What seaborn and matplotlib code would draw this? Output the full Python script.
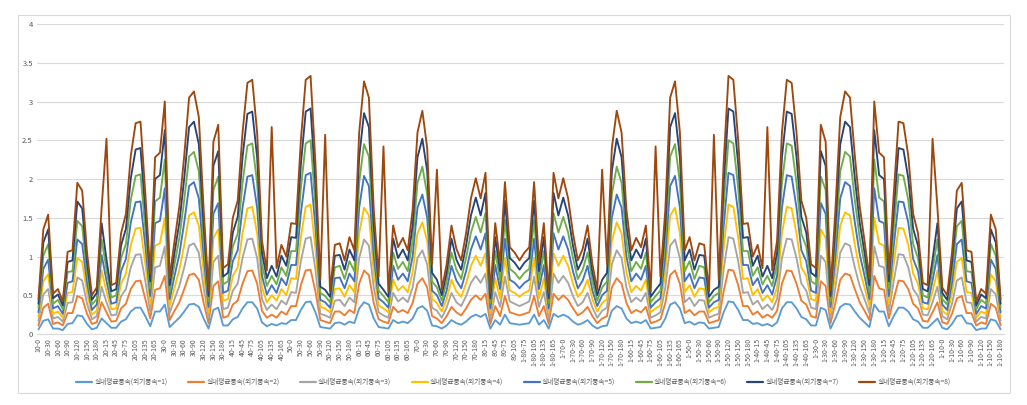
import numpy as np
import pandas as pd
import matplotlib
matplotlib.use("Agg")
import matplotlib.pyplot as plt
import seaborn as sns
from matplotlib.patches import Rectangle

# ---------------- data ----------------
series_names = ["실내평균풍속(외기풍속=1)", "실내평균풍속(외기풍속=2)", "실내평균풍속(외기풍속=3)",
                "실내평균풍속(외기풍속=4)", "실내평균풍속(외기풍속=5)", "실내평균풍속(외기풍속=6)",
                "실내평균풍속(외기풍속=7)", "실내평균풍속(외기풍속=8)"]
colors = ["#5B9BD5", "#ED7D31", "#A5A5A5", "#FFC000", "#4472C4", "#70AD47", "#264478", "#9E480E"]

groups_left = [10, 20, 30, 40, 50, 60, 70, 80]
groups_right = [80, 70, 60, 50, 40, 30, 20, 10]
angles = [0, 15, 30, 45, 60, 75, 90, 105, 120, 135, 150, 165, 180]

s1 = [0.06, 0.17, 0.19, 0.07, 0.07, 0.05, 0.13, 0.14, 0.24, 0.23,
      0.13, 0.06, 0.08, 0.20, 0.14, 0.08, 0.08, 0.16, 0.19, 0.29,
      0.34, 0.34, 0.23, 0.10, 0.29, 0.29, 0.38, 0.09, 0.15, 0.21,
      0.29, 0.38, 0.39, 0.35, 0.20, 0.07, 0.31, 0.34, 0.11, 0.11,
      0.19, 0.22, 0.33, 0.41, 0.41, 0.33, 0.15, 0.10, 0.13, 0.11,
      0.14, 0.13, 0.18, 0.18, 0.31, 0.41, 0.42, 0.28, 0.09, 0.08,
      0.07, 0.14, 0.15, 0.12, 0.16, 0.14, 0.33, 0.41, 0.38, 0.20,
      0.09, 0.08, 0.07, 0.18, 0.14, 0.16, 0.14, 0.20, 0.33, 0.36,
      0.30, 0.11, 0.10, 0.07, 0.11, 0.18, 0.14, 0.12, 0.16, 0.22,
      0.25, 0.22, 0.26, 0.07, 0.18, 0.12, 0.25, 0.14, 0.13, 0.12,
      0.13, 0.14, 0.25, 0.12, 0.18, 0.07, 0.26, 0.22, 0.25,
      0.22, 0.16, 0.12, 0.14, 0.18, 0.11, 0.07, 0.10, 0.11, 0.30,
      0.36, 0.33, 0.20, 0.14, 0.16, 0.14, 0.18, 0.07, 0.08, 0.09,
      0.20, 0.38, 0.41, 0.33, 0.14, 0.16, 0.12, 0.15, 0.14, 0.07,
      0.08, 0.09, 0.28, 0.42, 0.41, 0.31, 0.18, 0.18, 0.13, 0.14,
      0.11, 0.13, 0.10, 0.15, 0.33, 0.41, 0.41, 0.33, 0.22, 0.19,
      0.11, 0.11, 0.34, 0.31, 0.07, 0.20, 0.35, 0.39, 0.38, 0.29,
      0.21, 0.15, 0.09, 0.38, 0.29, 0.29, 0.10, 0.23, 0.34, 0.34,
      0.29, 0.19, 0.16, 0.08, 0.08, 0.14, 0.20, 0.08, 0.06, 0.13,
      0.23, 0.24, 0.14, 0.13, 0.05, 0.07, 0.07, 0.19, 0.17, 0.06]

s2 = [0.11, 0.34, 0.39, 0.13, 0.15, 0.11, 0.27, 0.27, 0.49, 0.46,
      0.26, 0.13, 0.15, 0.41, 0.28, 0.16, 0.17, 0.33, 0.39, 0.58,
      0.68, 0.69, 0.45, 0.20, 0.57, 0.59, 0.75, 0.18, 0.30, 0.41,
      0.58, 0.76, 0.78, 0.70, 0.40, 0.14, 0.62, 0.68, 0.21, 0.23,
      0.38, 0.43, 0.65, 0.81, 0.82, 0.65, 0.30, 0.21, 0.25, 0.21,
      0.29, 0.25, 0.36, 0.36, 0.63, 0.82, 0.83, 0.55, 0.18, 0.16,
      0.14, 0.29, 0.29, 0.24, 0.31, 0.27, 0.65, 0.82, 0.76, 0.40,
      0.19, 0.16, 0.14, 0.35, 0.28, 0.31, 0.27, 0.40, 0.65, 0.72,
      0.60, 0.23, 0.20, 0.14, 0.23, 0.35, 0.28, 0.24, 0.33, 0.44,
      0.50, 0.44, 0.52, 0.13, 0.36, 0.23, 0.49, 0.28, 0.26, 0.24,
      0.26, 0.28, 0.49, 0.23, 0.36, 0.13, 0.52, 0.44, 0.50,
      0.44, 0.33, 0.24, 0.28, 0.35, 0.23, 0.14, 0.20, 0.23, 0.60,
      0.72, 0.65, 0.40, 0.27, 0.31, 0.28, 0.35, 0.14, 0.16, 0.19,
      0.40, 0.76, 0.82, 0.65, 0.27, 0.31, 0.24, 0.29, 0.29, 0.14,
      0.16, 0.18, 0.55, 0.83, 0.82, 0.63, 0.36, 0.36, 0.25, 0.29,
      0.21, 0.25, 0.21, 0.30, 0.65, 0.82, 0.81, 0.65, 0.43, 0.38,
      0.23, 0.21, 0.68, 0.62, 0.14, 0.40, 0.70, 0.78, 0.76, 0.58,
      0.41, 0.30, 0.18, 0.75, 0.59, 0.57, 0.20, 0.45, 0.69, 0.68,
      0.58, 0.39, 0.33, 0.17, 0.16, 0.28, 0.41, 0.15, 0.13, 0.26,
      0.46, 0.49, 0.27, 0.27, 0.11, 0.15, 0.13, 0.39, 0.34, 0.11]

s3 = [0.17, 0.51, 0.58, 0.20, 0.22, 0.16, 0.40, 0.41, 0.73, 0.69,
      0.39, 0.19, 0.23, 0.61, 0.41, 0.24, 0.25, 0.49, 0.58, 0.86,
      1.02, 1.03, 0.68, 0.29, 0.86, 0.88, 1.13, 0.27, 0.45, 0.62,
      0.86, 1.14, 1.17, 1.05, 0.60, 0.21, 0.93, 1.01, 0.32, 0.34,
      0.56, 0.65, 0.98, 1.22, 1.23, 0.98, 0.45, 0.31, 0.38, 0.32,
      0.43, 0.38, 0.54, 0.53, 0.94, 1.23, 1.25, 0.83, 0.26, 0.24,
      0.21, 0.43, 0.44, 0.36, 0.47, 0.41, 0.98, 1.22, 1.14, 0.60,
      0.28, 0.24, 0.21, 0.53, 0.42, 0.47, 0.41, 0.60, 0.98, 1.08,
      0.90, 0.34, 0.30, 0.21, 0.34, 0.53, 0.41, 0.36, 0.49, 0.66,
      0.75, 0.66, 0.78, 0.20, 0.54, 0.35, 0.74, 0.42, 0.39, 0.36,
      0.39, 0.42, 0.74, 0.35, 0.54, 0.20, 0.78, 0.66, 0.75,
      0.66, 0.49, 0.36, 0.41, 0.53, 0.34, 0.21, 0.30, 0.34, 0.90,
      1.08, 0.98, 0.60, 0.41, 0.47, 0.42, 0.53, 0.21, 0.24, 0.28,
      0.60, 1.14, 1.22, 0.98, 0.41, 0.47, 0.36, 0.44, 0.43, 0.21,
      0.24, 0.26, 0.83, 1.25, 1.23, 0.94, 0.53, 0.54, 0.38, 0.43,
      0.32, 0.38, 0.31, 0.45, 0.98, 1.23, 1.22, 0.98, 0.65, 0.56,
      0.34, 0.32, 1.01, 0.93, 0.21, 0.60, 1.05, 1.17, 1.14, 0.86,
      0.62, 0.45, 0.27, 1.13, 0.88, 0.86, 0.29, 0.68, 1.03, 1.02,
      0.86, 0.58, 0.49, 0.25, 0.24, 0.41, 0.61, 0.23, 0.19, 0.39,
      0.69, 0.73, 0.41, 0.40, 0.16, 0.22, 0.20, 0.58, 0.51, 0.17]

s4 = [0.23, 0.68, 0.77, 0.26, 0.29, 0.21, 0.53, 0.54, 0.98, 0.93,
      0.53, 0.25, 0.30, 0.82, 0.55, 0.32, 0.33, 0.65, 0.78, 1.15,
      1.36, 1.37, 0.90, 0.39, 1.14, 1.17, 1.50, 0.36, 0.60, 0.83,
      1.15, 1.53, 1.57, 1.40, 0.80, 0.28, 1.24, 1.35, 0.43, 0.45,
      0.75, 0.86, 1.30, 1.62, 1.64, 1.30, 0.60, 0.41, 0.50, 0.43,
      0.58, 0.50, 0.72, 0.71, 1.25, 1.64, 1.67, 1.10, 0.35, 0.33,
      0.28, 0.58, 0.59, 0.48, 0.63, 0.54, 1.30, 1.63, 1.53, 0.80,
      0.37, 0.33, 0.28, 0.70, 0.56, 0.62, 0.54, 0.80, 1.30, 1.44,
      1.20, 0.45, 0.40, 0.29, 0.45, 0.70, 0.55, 0.48, 0.65, 0.88,
      1.01, 0.88, 1.04, 0.27, 0.72, 0.46, 0.98, 0.56, 0.53, 0.48,
      0.53, 0.56, 0.98, 0.46, 0.72, 0.27, 1.04, 0.88, 1.01,
      0.88, 0.65, 0.48, 0.55, 0.70, 0.45, 0.29, 0.40, 0.45, 1.20,
      1.44, 1.30, 0.80, 0.54, 0.62, 0.56, 0.70, 0.28, 0.33, 0.37,
      0.80, 1.53, 1.63, 1.30, 0.54, 0.63, 0.48, 0.59, 0.58, 0.28,
      0.33, 0.35, 1.10, 1.67, 1.64, 1.25, 0.71, 0.72, 0.50, 0.58,
      0.43, 0.50, 0.41, 0.60, 1.30, 1.64, 1.62, 1.30, 0.86, 0.75,
      0.45, 0.43, 1.35, 1.24, 0.28, 0.80, 1.40, 1.57, 1.53, 1.15,
      0.83, 0.60, 0.36, 1.50, 1.17, 1.14, 0.39, 0.90, 1.37, 1.36,
      1.15, 0.78, 0.65, 0.33, 0.32, 0.55, 0.82, 0.30, 0.25, 0.53,
      0.93, 0.98, 0.54, 0.53, 0.21, 0.29, 0.26, 0.77, 0.68, 0.23]

s5 = [0.28, 0.84, 0.96, 0.33, 0.36, 0.26, 0.66, 0.68, 1.22, 1.16,
      0.66, 0.31, 0.38, 1.02, 0.69, 0.39, 0.41, 0.81, 0.97, 1.44,
      1.70, 1.71, 1.13, 0.49, 1.43, 1.46, 1.88, 0.45, 0.75, 1.03,
      1.44, 1.91, 1.96, 1.75, 1.00, 0.35, 1.55, 1.69, 0.53, 0.56,
      0.94, 1.08, 1.63, 2.03, 2.05, 1.63, 0.75, 0.51, 0.63, 0.53,
      0.72, 0.63, 0.89, 0.89, 1.56, 2.05, 2.08, 1.38, 0.44, 0.41,
      0.34, 0.72, 0.73, 0.59, 0.78, 0.68, 1.63, 2.04, 1.91, 1.00,
      0.46, 0.41, 0.34, 0.88, 0.70, 0.78, 0.68, 1.00, 1.63, 1.80,
      1.50, 0.56, 0.50, 0.36, 0.56, 0.88, 0.69, 0.59, 0.81, 1.09,
      1.26, 1.09, 1.30, 0.33, 0.89, 0.58, 1.23, 0.70, 0.66, 0.59,
      0.66, 0.70, 1.23, 0.58, 0.89, 0.33, 1.30, 1.09, 1.26,
      1.09, 0.81, 0.59, 0.69, 0.88, 0.56, 0.36, 0.50, 0.56, 1.50,
      1.80, 1.63, 1.00, 0.68, 0.78, 0.70, 0.88, 0.34, 0.41, 0.46,
      1.00, 1.91, 2.04, 1.63, 0.68, 0.78, 0.59, 0.73, 0.72, 0.34,
      0.41, 0.44, 1.38, 2.08, 2.05, 1.56, 0.89, 0.89, 0.63, 0.72,
      0.53, 0.63, 0.51, 0.75, 1.63, 2.05, 2.03, 1.63, 1.08, 0.94,
      0.56, 0.53, 1.69, 1.55, 0.35, 1.00, 1.75, 1.96, 1.91, 1.44,
      1.03, 0.75, 0.45, 1.88, 1.46, 1.43, 0.49, 1.13, 1.71, 1.70,
      1.44, 0.97, 0.81, 0.41, 0.39, 0.69, 1.02, 0.38, 0.31, 0.66,
      1.16, 1.22, 0.68, 0.66, 0.26, 0.36, 0.33, 0.96, 0.84, 0.28]

s6 = [0.34, 1.01, 1.16, 0.39, 0.44, 0.32, 0.80, 0.81, 1.46, 1.39,
      0.79, 0.38, 0.45, 1.22, 0.83, 0.47, 0.50, 0.98, 1.16, 1.73,
      2.04, 2.06, 1.35, 0.59, 1.71, 1.76, 2.25, 0.54, 0.90, 1.24,
      1.73, 2.29, 2.35, 2.10, 1.20, 0.42, 1.86, 2.03, 0.64, 0.68,
      1.13, 1.29, 1.95, 2.43, 2.46, 1.95, 0.90, 0.62, 0.75, 0.64,
      0.86, 0.75, 1.07, 1.07, 1.88, 2.46, 2.50, 1.65, 0.53, 0.49,
      0.41, 0.86, 0.88, 0.71, 0.94, 0.81, 1.95, 2.45, 2.29, 1.20,
      0.56, 0.49, 0.41, 1.05, 0.84, 0.93, 0.81, 1.20, 1.95, 2.16,
      1.80, 0.68, 0.60, 0.43, 0.68, 1.05, 0.83, 0.71, 0.98, 1.31,
      1.51, 1.31, 1.56, 0.40, 1.07, 0.69, 1.47, 0.84, 0.79, 0.71,
      0.79, 0.84, 1.47, 0.69, 1.07, 0.40, 1.56, 1.31, 1.51,
      1.31, 0.98, 0.71, 0.83, 1.05, 0.68, 0.43, 0.60, 0.68, 1.80,
      2.16, 1.95, 1.20, 0.81, 0.93, 0.84, 1.05, 0.41, 0.49, 0.56,
      1.20, 2.29, 2.45, 1.95, 0.81, 0.94, 0.71, 0.88, 0.86, 0.41,
      0.49, 0.53, 1.65, 2.50, 2.46, 1.88, 1.07, 1.07, 0.75, 0.86,
      0.64, 0.75, 0.62, 0.90, 1.95, 2.46, 2.43, 1.95, 1.29, 1.13,
      0.68, 0.64, 2.03, 1.86, 0.42, 1.20, 2.10, 2.35, 2.29, 1.73,
      1.24, 0.90, 0.54, 2.25, 1.76, 1.71, 0.59, 1.35, 2.06, 2.04,
      1.73, 1.16, 0.98, 0.50, 0.47, 0.83, 1.22, 0.45, 0.38, 0.79,
      1.39, 1.46, 0.81, 0.80, 0.32, 0.44, 0.39, 1.16, 1.01, 0.34]

s7 = [0.39, 1.18, 1.35, 0.46, 0.51, 0.37, 0.93, 0.95, 1.71, 1.62,
      0.92, 0.44, 0.53, 1.43, 0.96, 0.55, 0.58, 1.14, 1.36, 2.01,
      2.38, 2.40, 1.58, 0.68, 2.00, 2.05, 2.63, 0.63, 1.05, 1.44,
      2.01, 2.67, 2.74, 2.45, 1.40, 0.49, 2.17, 2.36, 0.74, 0.79,
      1.31, 1.51, 2.28, 2.84, 2.87, 2.28, 1.05, 0.72, 0.88, 0.74,
      1.01, 0.88, 1.25, 1.24, 2.19, 2.87, 2.91, 1.93, 0.61, 0.57,
      0.48, 1.01, 1.02, 0.83, 1.09, 0.95, 2.28, 2.85, 2.67, 1.40,
      0.65, 0.57, 0.48, 1.23, 0.98, 1.09, 0.95, 1.40, 2.28, 2.52,
      2.10, 0.79, 0.70, 0.50, 0.79, 1.23, 0.96, 0.83, 1.14, 1.53,
      1.76, 1.53, 1.82, 0.46, 1.25, 0.81, 1.72, 0.98, 0.92, 0.83,
      0.92, 0.98, 1.72, 0.81, 1.25, 0.46, 1.82, 1.53, 1.76,
      1.53, 1.14, 0.83, 0.96, 1.23, 0.79, 0.50, 0.70, 0.79, 2.10,
      2.52, 2.28, 1.40, 0.95, 1.09, 0.98, 1.23, 0.48, 0.57, 0.65,
      1.40, 2.67, 2.85, 2.28, 0.95, 1.09, 0.83, 1.02, 1.01, 0.48,
      0.57, 0.61, 1.93, 2.91, 2.87, 2.19, 1.24, 1.25, 0.88, 1.01,
      0.74, 0.88, 0.72, 1.05, 2.28, 2.87, 2.84, 2.28, 1.51, 1.31,
      0.79, 0.74, 2.36, 2.17, 0.49, 1.40, 2.45, 2.74, 2.67, 2.01,
      1.44, 1.05, 0.63, 2.63, 2.05, 2.00, 0.68, 1.58, 2.40, 2.38,
      2.01, 1.36, 1.14, 0.58, 0.55, 0.96, 1.43, 0.53, 0.44, 0.92,
      1.62, 1.71, 0.95, 0.93, 0.37, 0.51, 0.46, 1.35, 1.18, 0.39]

s8 = [0.45, 1.35, 1.54, 0.52, 0.58, 0.42, 1.06, 1.08, 1.95, 1.85,
      1.05, 0.50, 0.60, 1.63, 2.52, 0.63, 0.66, 1.30, 1.55, 2.30,
      2.72, 2.74, 1.80, 0.78, 2.28, 2.34, 3.00, 0.72, 1.20, 1.65,
      2.30, 3.05, 3.13, 2.80, 1.60, 0.56, 2.48, 2.70, 0.85, 0.90,
      1.50, 1.72, 2.60, 3.24, 3.28, 2.60, 1.20, 0.82, 2.67, 0.85,
      1.15, 1.00, 1.43, 1.42, 2.50, 3.28, 3.33, 2.20, 0.70, 2.57,
      0.55, 1.15, 1.17, 0.95, 1.25, 1.08, 2.60, 3.26, 3.05, 1.60,
      0.74, 2.42, 0.55, 1.40, 1.12, 1.24, 1.08, 1.60, 2.60, 2.88,
      2.40, 0.90, 2.12, 0.57, 0.90, 1.40, 1.10, 0.95, 1.30, 1.75,
      2.01, 1.75, 2.08, 0.53, 1.43, 0.92, 1.96, 1.12, 1.05, 0.95,
      1.05, 1.12, 1.96, 0.92, 1.43, 0.53, 2.08, 1.75, 2.01,
      1.75, 1.30, 0.95, 1.10, 1.40, 0.90, 0.57, 2.12, 0.90, 2.40,
      2.88, 2.60, 1.60, 1.08, 1.24, 1.12, 1.40, 0.55, 2.42, 0.74,
      1.60, 3.05, 3.26, 2.60, 1.08, 1.25, 0.95, 1.17, 1.15, 0.55,
      2.57, 0.70, 2.20, 3.33, 3.28, 2.50, 1.42, 1.43, 1.00, 1.15,
      0.85, 2.67, 0.82, 1.20, 2.60, 3.28, 3.24, 2.60, 1.72, 1.50,
      0.90, 0.85, 2.70, 2.48, 0.56, 1.60, 2.80, 3.13, 3.05, 2.30,
      1.65, 1.20, 0.72, 3.00, 2.34, 2.28, 0.78, 1.80, 2.74, 2.72,
      2.30, 1.55, 1.30, 0.66, 0.63, 2.52, 1.63, 0.60, 0.50, 1.05,
      1.85, 1.95, 1.08, 1.06, 0.42, 0.58, 0.52, 1.54, 1.35, 0.45]

series_values = [s1, s2, s3, s4, s5, s6, s7, s8]
N = len(s8)

labels_left = [f"{g}-{a}" for g in groups_left for a in angles]
labels_right = [f"1-{g}-{a}" for g in groups_right for a in angles]
categories = (labels_left[:100] + labels_right[-(N - 100):])[:N]

# ---------------- plot ----------------
sns.set_theme(style="white")
plt.rcParams["font.family"] = ["Noto Sans CJK KR", "DejaVu Sans"]

W, H = 1027, 405
fig = plt.figure(figsize=(W / 100, H / 100), dpi=100)
ax = fig.add_axes([37 / W, 1 - 334 / H, (1004 - 37) / W, (334 - 24) / H])

df = pd.DataFrame({
    "x": np.tile(np.arange(N), len(series_values)),
    "value": np.concatenate([np.asarray(v, dtype=float) for v in series_values]),
    "series": np.repeat(series_names, N),
})
sns.lineplot(data=df, x="x", y="value", hue="series", hue_order=series_names,
             palette=colors, linewidth=1.35, estimator=None, sort=False, ax=ax)

ax.set_xlim(-0.3, N - 0.3)
ax.set_ylim(0, 4)
yt = np.arange(0, 4.01, 0.5)
ax.set_yticks(yt)
ax.set_yticklabels([f"{v:g}" for v in yt], fontsize=5.5, color="#595959")
ax.set_xticks(np.arange(0, N, 2))
ax.set_xticklabels(categories[::2], rotation=90, fontsize=5, color="#595959")
ax.tick_params(axis="both", length=0, pad=3)
ax.grid(axis="y", color="#D9D9D9", linewidth=0.8)
ax.set_axisbelow(True)
for side in ["top", "right", "left"]:
    ax.spines[side].set_visible(False)
ax.spines["bottom"].set_color("#D9D9D9")
ax.spines["bottom"].set_linewidth(0.8)
ax.set_xlabel("")
ax.set_ylabel("")

handles, labels = ax.get_legend_handles_labels()
leg = ax.legend(handles, labels, loc="center", bbox_to_anchor=(0.5, 1 - 382 / H),
                bbox_transform=fig.transFigure, ncol=8, frameon=False, fontsize=4.8,
                handlelength=2.4, handletextpad=0.3, columnspacing=3.1,
                labelcolor="#595959")
for line in leg.get_lines():
    line.set_linewidth(1.6)

fig.patches.append(Rectangle((18 / W, 1 - 393 / H), (1010 - 18) / W, (393 - 15) / H,
                             transform=fig.transFigure, fill=False,
                             edgecolor="#D9D9D9", linewidth=0.8))

fig.savefig("out.png", dpi=100, facecolor="white")
